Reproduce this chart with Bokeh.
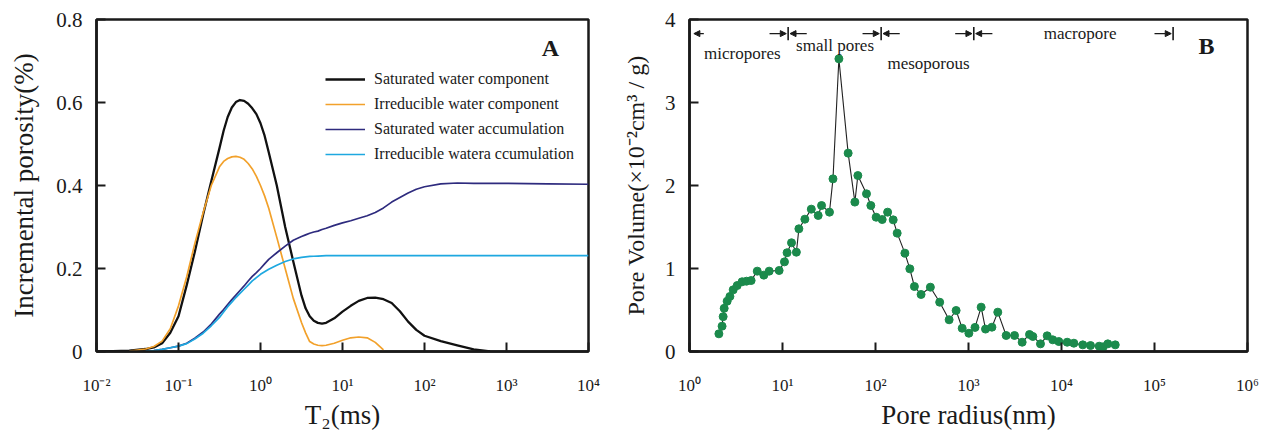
import math
from bokeh.plotting import figure
from bokeh.models import (FixedTicker, CustomJSTickFormatter, Legend, LegendItem, Label,
                          Arrow, NormalHead, Range1d)
from bokeh.layouts import row
from bokeh.embed import file_html
from bokeh.resources import INLINE

FONT = "Liberation Serif"
INK = "#1a1a1a"
nan = float("nan")

# ---------------- Panel A data (T2 spectrum) ----------------
t2_ms = [0.01, 0.0158, 0.0251, 0.0398, 0.0501, 0.0631, 0.0794, 0.1, 0.126, 0.158,
         0.2, 0.251, 0.316, 0.355, 0.398, 0.447, 0.501, 0.562, 0.631, 0.708,
         0.794, 0.891, 1.0, 1.122, 1.26, 1.58, 2.0, 2.51, 3.16, 3.548,
         3.98, 4.467, 5.01, 5.623, 6.31, 7.94, 10.0, 12.6, 15.8, 20.0,
         25.1, 31.6, 39.8, 50.1, 63.1, 79.4, 100.0, 158.0, 251.0, 398.0,
         631.0, 1000.0, 3162.0, 10000.0]
sat_component = [0.0, 0.001, 0.002, 0.006, 0.010, 0.020, 0.045, 0.085, 0.16, 0.24,
                 0.33, 0.41, 0.49, 0.532, 0.565, 0.588, 0.601, 0.606, 0.604, 0.597,
                 0.586, 0.572, 0.55, 0.52, 0.48, 0.40, 0.30, 0.217, 0.135, 0.104,
                 0.085, 0.074, 0.069, 0.067, 0.069, 0.08, 0.096, 0.11, 0.122, 0.129,
                 0.13, 0.126, 0.117, 0.097, 0.072, 0.052, 0.038, 0.025, 0.015, 0.005,
                 0.0, nan, nan, nan]
irr_component = [nan, nan, 0.001, 0.006, 0.012, 0.025, 0.055, 0.11, 0.18, 0.26,
                 0.335, 0.40, 0.445, 0.458, 0.465, 0.469, 0.47, 0.468, 0.463, 0.453,
                 0.44, 0.422, 0.40, 0.375, 0.345, 0.275, 0.20, 0.128, 0.07, 0.045,
                 0.024, 0.018, 0.015, 0.014, 0.015, 0.02, 0.027, 0.033, 0.035, 0.033,
                 0.022, 0.004, nan, nan, nan, nan, nan, nan, nan, nan,
                 nan, nan, nan, nan]
sat_accum = [nan, nan, nan, 0.001, 0.002, 0.005, 0.009, 0.013, 0.02, 0.032,
             0.047, 0.066, 0.09, 0.101, 0.113, 0.125, 0.136, 0.147, 0.158, 0.17,
             0.181, 0.19, 0.20, 0.211, 0.222, 0.238, 0.254, 0.268, 0.277, 0.281,
             0.285, 0.288, 0.29, 0.294, 0.297, 0.304, 0.31, 0.315, 0.321, 0.327,
             0.335, 0.346, 0.36, 0.371, 0.382, 0.391, 0.397, 0.404, 0.406, 0.405,
             0.405, 0.405, 0.404, 0.403]
irr_accum = [nan, nan, nan, 0.001, 0.002, 0.005, 0.009, 0.013, 0.019, 0.03,
             0.044, 0.062, 0.082, 0.095, 0.108, 0.119, 0.13, 0.14, 0.15, 0.16,
             0.17, 0.178, 0.186, 0.192, 0.198, 0.208, 0.217, 0.223, 0.227, 0.228,
             0.229, 0.2295, 0.23, 0.2305, 0.231, 0.231, 0.231, 0.231, 0.231, 0.231,
             0.231, 0.231, 0.231, 0.231, 0.231, 0.231, 0.231, 0.231, 0.231, 0.231,
             0.231, 0.231, 0.231, 0.231]
series_names = ["Saturated water component", "Irreducible water component",
                "Saturated water accumulation", "Irreducible watera ccumulation"]
series_colors = ["#111111", "#f2a12b", "#2e2b7e", "#1ea8e0"]

a_xticks = [0.01, 0.1, 1, 10, 100, 1000, 10000]
a_xtick_labels = ["10⁻²", "10⁻¹", "10⁰", "10¹", "10²", "10³", "10⁴"]
a_yticks = [0, 0.2, 0.4, 0.6, 0.8]
a_ytick_labels = ["0", "0.2", "0.4", "0.6", "0.8"]

# ---------------- Panel B data (pore size distribution) ----------------
pore_radius_nm = [2.07, 2.24, 2.30, 2.36, 2.54, 2.72, 2.95, 3.26, 3.68, 4.10, 4.60, 5.35, 6.30,
                  7.19, 9.20, 10.5, 11.2, 12.5, 14.1, 15.0, 17.4, 20.4, 24.2, 26.3, 32.0, 34.9,
                  40.4, 50.8, 60.0, 64.6, 80.0, 89.1, 101.6, 118, 135, 155, 171, 207, 234, 262,
                  309, 389, 490, 619, 736, 855, 1009, 1175, 1368, 1524, 1786, 2065, 2541, 3126,
                  3776, 4529, 4920, 5943, 7015, 8054, 9354, 11510, 13580, 16940, 20510, 25410,
                  28050, 31480, 37840]
pore_volume = [0.213, 0.305, 0.42, 0.52, 0.606, 0.663, 0.743, 0.795, 0.84, 0.847, 0.855, 0.968,
               0.92, 0.968, 0.976, 1.08, 1.19, 1.31, 1.196, 1.478, 1.594, 1.715, 1.639, 1.759,
               1.679, 2.08, 3.526, 2.39, 1.80, 2.12, 1.90, 1.759, 1.618, 1.59, 1.679, 1.586,
               1.426, 1.185, 0.996, 0.783, 0.687, 0.775, 0.594, 0.382, 0.494, 0.28, 0.22, 0.29,
               0.534, 0.27, 0.293, 0.474, 0.193, 0.193, 0.112, 0.205, 0.181, 0.092, 0.189,
               0.141, 0.12, 0.112, 0.10, 0.08, 0.072, 0.064, 0.056, 0.092, 0.08]

b_xticks = [1, 10, 100, 1000, 10000, 100000, 1000000]
b_xtick_labels = ["10⁰", "10¹", "10²", "10³", "10⁴", "10⁵", "10⁶"]
b_yticks = [0, 1, 2, 3, 4]
b_ytick_labels = ["0", "1", "2", "3", "4"]

pore_class_names = ["micropores", "small pores", "mesoporous", "macropore"]
pore_class_bounds_nm = [11.5, 115, 1140, 158500]


def fixed_labels(tick_values, tick_labels):
    return CustomJSTickFormatter(args=dict(tvals=tick_values, tlabs=tick_labels), code="""
        for (let i = 0; i < tvals.length; i++) {
            if (Math.abs(tvals[i] - tick) <= 1e-9 * Math.max(1, Math.abs(tvals[i]))) return tlabs[i];
        }
        return "";
    """)


def style(p, xt, xl, yt, yl):
    p.grid.visible = False
    p.outline_line_color = INK
    p.outline_line_width = 2.5
    p.background_fill_color = "white"
    p.border_fill_color = "white"
    p.xaxis.ticker = FixedTicker(ticks=xt, minor_ticks=[])
    p.yaxis.ticker = FixedTicker(ticks=yt, minor_ticks=[])
    p.xaxis.formatter = fixed_labels(xt, xl)
    p.yaxis.formatter = fixed_labels(yt, yl)
    for ax in (p.xaxis[0], p.yaxis[0]):
        ax.axis_line_color = INK
        ax.axis_line_width = 2.5
        ax.major_tick_in = 9
        ax.major_tick_out = 0
        ax.major_tick_line_width = 2
        ax.major_tick_line_color = INK
        ax.minor_tick_in = 0
        ax.minor_tick_out = 0
        ax.major_label_text_font = FONT
        ax.major_label_text_color = INK
        ax.axis_label_text_font = FONT
        ax.axis_label_text_font_style = "normal"
        ax.axis_label_text_color = INK
    p.xaxis.major_label_text_font_size = "17px"
    p.xaxis.major_label_standoff = 24
    p.xaxis.axis_label_text_font_size = "27px"
    p.xaxis.axis_label_standoff = 2
    p.yaxis.major_label_text_font_size = "21px"
    p.yaxis.major_label_standoff = 14


# ---------------- Panel A ----------------
pa = figure(width=608, height=433, x_axis_type="log", x_range=Range1d(0.01, 10000),
            y_range=Range1d(0, 0.8), output_backend="svg", toolbar_location=None,
            min_border_left=96, min_border_right=20, min_border_top=19, min_border_bottom=82)
style(pa, a_xticks, a_xtick_labels, a_yticks, a_ytick_labels)
pa.xaxis.axis_label = "T₂(ms)"
pa.yaxis.axis_label = "Incremental porosity(%)"
pa.yaxis.axis_label_text_font_size = "27px"
pa.yaxis.axis_label_standoff = 14

renderers = []
for ys, col, w in zip([sat_component, irr_component, sat_accum, irr_accum], series_colors,
                      [2.3, 1.7, 1.7, 1.7]):
    renderers.append(pa.line(t2_ms, ys, line_color=col, line_width=w, line_join="round"))

legend = Legend(items=[LegendItem(label=n, renderers=[r]) for n, r in zip(series_names, renderers)],
                location=(229, 187), border_line_color=None, background_fill_alpha=0,
                label_text_font=FONT, label_text_font_size="16px", label_text_color=INK,
                glyph_width=40, glyph_height=20, label_height=20, label_standoff=9,
                spacing=5, padding=0, margin=0)
pa.add_layout(legend)

pa.add_layout(Label(x=3444, y=0.7325, text="A", text_font=FONT, text_font_size="24px",
                    text_font_style="bold", text_align="center", text_baseline="middle",
                    text_color=INK))

# ---------------- Panel B ----------------
pb = figure(width=659, height=433, x_axis_type="log", x_range=Range1d(1, 1000000),
            y_range=Range1d(0, 4), output_backend="svg", toolbar_location=None,
            min_border_left=81, min_border_right=20, min_border_top=19, min_border_bottom=82)
style(pb, b_xticks, b_xtick_labels, b_yticks, b_ytick_labels)
pb.xaxis.axis_label = "Pore radius(nm)"
pb.yaxis.axis_label = "Pore Volume(×10⁻²cm³ / g)"
pb.yaxis.axis_label_text_font_size = "24px"
pb.yaxis.axis_label_standoff = 13

pb.line(pore_radius_nm, pore_volume, line_color="#222222", line_width=1.1)
pb.scatter(pore_radius_nm, pore_volume, size=8, fill_color="#1b8a4c", line_color="#1b8a4c")

y_arrow = 3.83
head = dict(size=6, fill_color=INK, line_color=INK, line_width=1)
# leftmost arrow
pb.add_layout(Arrow(end=NormalHead(**head), x_start=10 ** 0.154, y_start=y_arrow,
                    x_end=10 ** 0.047, y_end=y_arrow, line_width=1.2, line_color=INK))
for i, b in enumerate(pore_class_bounds_nm):
    lb = math.log10(b)
    pb.add_layout(Arrow(end=NormalHead(**head), x_start=10 ** (lb - 0.2), y_start=y_arrow,
                        x_end=10 ** (lb - 0.02), y_end=y_arrow, line_width=1.2, line_color=INK))
    if i < len(pore_class_bounds_nm) - 1:
        pb.add_layout(Arrow(end=NormalHead(**head), x_start=10 ** (lb + 0.2), y_start=y_arrow,
                            x_end=10 ** (lb + 0.02), y_end=y_arrow, line_width=1.2,
                            line_color=INK))
pb.segment(x0=pore_class_bounds_nm, y0=[3.75] * 4, x1=pore_class_bounds_nm, y1=[3.91] * 4,
           line_color=INK, line_width=1.6)

class_label_pos = [(10 ** 0.568, 3.59), (10 ** 1.565, 3.69), (10 ** 2.57, 3.47), (10 ** 4.2, 3.83)]
for name, (lx, ly) in zip(pore_class_names, class_label_pos):
    pb.add_layout(Label(x=lx, y=ly, text=name, text_font=FONT, text_font_size="17px",
                        text_align="center", text_baseline="middle", text_color=INK))

pb.add_layout(Label(x=362000, y=3.675, text="B", text_font=FONT, text_font_size="24px",
                    text_font_style="bold", text_align="center", text_baseline="middle",
                    text_color=INK))

layout = row(pa, pb)
open("out.html", "w").write(file_html(layout, INLINE))
